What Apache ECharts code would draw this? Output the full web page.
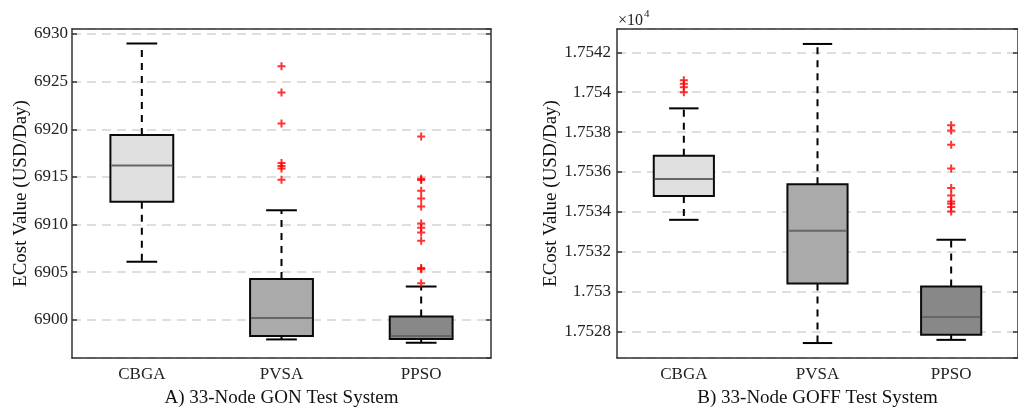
<!DOCTYPE html>
<html>
<head>
<meta charset="utf-8">
<script src="https://cdn.jsdelivr.net/npm/echarts@6/dist/echarts.min.js"></script>
<style>
  html, body { margin: 0; padding: 0; background: #fff; }
  #main { width: 1018px; height: 413px; }
</style>
</head>
<body>
<div id="main"></div>
<script>
// categories
var cats = ['CBGA', 'PVSA', 'PPSO']

// A) 33-Node GON
var gonLow = [6906.1, 6897.95, 6897.6]
var gonQ1 = [6912.4, 6898.3, 6898.0]
var gonMed = [6916.2, 6900.2, 6898.3]
var gonQ3 = [6919.4, 6904.3, 6900.35]
var gonHigh = [6929.0, 6911.5, 6903.5]
var gonOutPVSA = [6926.61, 6923.85, 6920.61, 6916.46, 6916.15, 6915.87, 6914.69]
var gonOutPPSO = [6919.25, 6914.82, 6914.67, 6913.54, 6912.73, 6911.89, 6910.12, 6909.67,
  6909.17, 6908.31, 6905.44, 6905.3, 6903.84]

// B) 33-Node GOFF
var goffLow = [17533.60, 17527.42, 17527.58]
var goffQ1 = [17534.79, 17530.41, 17527.83]
var goffMed = [17535.65, 17533.05, 17528.73]
var goffQ3 = [17536.81, 17535.39, 17530.26]
var goffHigh = [17539.19, 17542.42, 17532.60]
var goffOutCBGA = [17540.60, 17540.42, 17540.25, 17540.00]
var goffOutPPSO = [17538.34, 17538.08, 17537.36, 17536.18, 17535.19, 17534.82, 17534.52,
  17534.40, 17534.24, 17534.02]

var boxFill = ['#e0e0e0', '#aaaaaa', '#888888']
var FONT = 'Liberation Serif'

function boxRows(lo, q1, md, q3, hi) {
  return cats.map(function (c, i) {
    return [i, lo[i], q1[i], md[i], q3[i], hi[i]]
  })
}

// box + dashed whiskers drawn through the axes' own coord()
function renderBox(params, api) {
  var i = api.value(0)
  var lo = api.coord([i, api.value(1)])
  var q1 = api.coord([i, api.value(2)])
  var md = api.coord([i, api.value(3)])
  var q3 = api.coord([i, api.value(4)])
  var hi = api.coord([i, api.value(5)])
  var band = api.size([1, 0])[0]
  var bw = band * 0.45
  var cw = band * 0.22
  var cx = lo[0]
  var dash = { stroke: '#000', lineWidth: 2, lineDash: [7, 6] }
  var solid = { stroke: '#000', lineWidth: 2 }
  return {
    type: 'group',
    children: [
      { type: 'line', shape: { x1: cx, y1: q3[1], x2: cx, y2: hi[1] }, style: dash },
      { type: 'line', shape: { x1: cx, y1: q1[1], x2: cx, y2: lo[1] }, style: dash },
      { type: 'line', shape: { x1: cx - cw / 2, y1: hi[1], x2: cx + cw / 2, y2: hi[1] }, style: solid },
      { type: 'line', shape: { x1: cx - cw / 2, y1: lo[1], x2: cx + cw / 2, y2: lo[1] }, style: solid },
      {
        type: 'rect',
        shape: { x: cx - bw / 2, y: q3[1], width: bw, height: q1[1] - q3[1] },
        style: { fill: boxFill[i], stroke: '#0a0a0a', lineWidth: 2 }
      },
      { type: 'line', shape: { x1: cx - bw / 2 + 1, y1: md[1], x2: cx + bw / 2 - 1, y2: md[1] }, style: { stroke: '#666', lineWidth: 2 } }
    ]
  }
}

var plus = 'path://M3,0h2v3h3v2h-3v3h-2v-3h-3v-2h3z'
var axisColor = '#333'
var labelStyle = { color: '#222', fontFamily: FONT, fontSize: 17 }

function xAxes(gridIndex, name) {
  return [{
    type: 'category', gridIndex: gridIndex, data: cats, position: 'bottom',
    name: name, nameLocation: 'middle', nameGap: 31,
    nameTextStyle: { color: '#111', fontFamily: FONT, fontSize: 19 },
    axisLine: { lineStyle: { color: axisColor, width: 1.5 } },
    axisTick: { inside: true, alignWithLabel: true, length: 5, lineStyle: { color: axisColor, width: 1.5 } },
    axisLabel: Object.assign({ margin: 8 }, labelStyle)
  }, {
    type: 'category', gridIndex: gridIndex, data: cats, position: 'top',
    axisLine: { lineStyle: { color: axisColor, width: 1.5 } },
    axisTick: { inside: true, alignWithLabel: true, length: 5, lineStyle: { color: axisColor, width: 1.5 } },
    axisLabel: { show: false }
  }]
}

function yAxes(gridIndex, min, max, step, gap, margin, fmt) {
  return [{
    type: 'value', gridIndex: gridIndex, min: min, max: max,
    minInterval: step, maxInterval: step, position: 'left',
    name: 'ECost Value (USD/Day)', nameLocation: 'middle', nameGap: gap,
    nameTextStyle: { color: '#111', fontFamily: FONT, fontSize: 19 },
    axisLine: { show: true, lineStyle: { color: axisColor, width: 1.5 } },
    axisTick: { show: true, inside: true, length: 5, lineStyle: { color: axisColor, width: 1.5 } },
    axisLabel: Object.assign({ margin: margin, showMinLabel: false, showMaxLabel: false, formatter: fmt }, labelStyle),
    splitLine: { show: true, lineStyle: { color: '#dedede', width: 2, type: [9, 6] } }
  }, {
    type: 'value', gridIndex: gridIndex, min: min, max: max,
    minInterval: step, maxInterval: step, position: 'right',
    axisLine: { show: true, lineStyle: { color: axisColor, width: 1.5 } },
    axisTick: { show: true, inside: true, length: 5, lineStyle: { color: axisColor, width: 1.5 } },
    axisLabel: { show: false },
    splitLine: { show: false }
  }]
}

var chart = echarts.init(document.getElementById('main'))

var option = {
  animation: false,
  backgroundColor: '#fff',
  grid: [
    { left: 72, top: 29, width: 419, height: 331 },
    { left: 617, top: 29, width: 413, height: 331 }
  ],
  xAxis: xAxes(0, 'A) 33-Node GON Test System').concat(xAxes(1, 'B) 33-Node GOFF Test System')),
  yAxis: yAxes(0, 6896, 6930.52, 5, 41, 4, function (v) { return String(v) })
    .concat(yAxes(1, 17526.67, 17543.17, 2, 55, 6, function (v) {
      return String(parseFloat((v / 1e4).toFixed(4)))
    })),
  graphic: [
    { type: 'text', x: 618, y: 13, style: { text: '×10', font: '16px "Liberation Serif"', fill: '#222' } },
    { type: 'text', x: 644, y: 9, style: { text: '4', font: '11px "Liberation Serif"', fill: '#222' } }
  ],
  series: [
    {
      type: 'custom', xAxisIndex: 0, yAxisIndex: 0, renderItem: renderBox,
      encode: { x: 0, y: [1, 2, 3, 4, 5] },
      data: boxRows(gonLow, gonQ1, gonMed, gonQ3, gonHigh)
    },
    {
      type: 'custom', xAxisIndex: 2, yAxisIndex: 2, renderItem: renderBox,
      encode: { x: 0, y: [1, 2, 3, 4, 5] },
      data: boxRows(goffLow, goffQ1, goffMed, goffQ3, goffHigh)
    },
    {
      type: 'scatter', xAxisIndex: 0, yAxisIndex: 0, symbol: plus, symbolSize: 8, z: 5,
      itemStyle: { color: '#ff0000' },
      data: gonOutPVSA.map(function (v) { return [1, v] }).concat(gonOutPPSO.map(function (v) { return [2, v] }))
    },
    {
      type: 'scatter', xAxisIndex: 2, yAxisIndex: 2, symbol: plus, symbolSize: 8, z: 5,
      itemStyle: { color: '#ff0000' },
      data: goffOutCBGA.map(function (v) { return [0, v] }).concat(goffOutPPSO.map(function (v) { return [2, v] }))
    }
  ]
}

chart.setOption(option)
</script>
</body>
</html>
